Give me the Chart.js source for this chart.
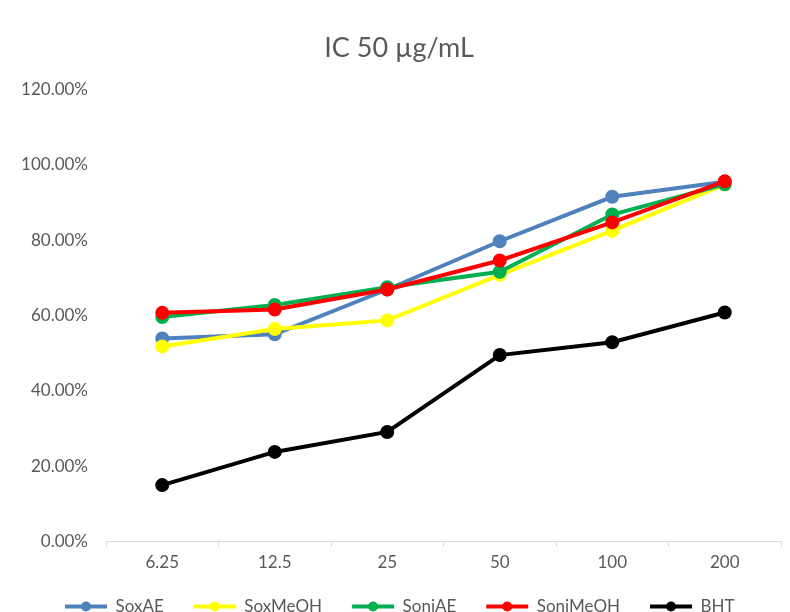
<!DOCTYPE html>
<html>
<head>
<meta charset="utf-8">
<script src="https://cdn.jsdelivr.net/npm/chart.js@4"></script>
<style>
  html, body { margin: 0; padding: 0; background: #fff; }
  #wrap { width: 790px; height: 612px; }
</style>
</head>
<body>
<div id="wrap"><canvas id="ic50Chart"></canvas></div>
<script>
// concentrations (µg/mL)
var labels = ['6.25', '12.5', '25', '50', '100', '200'];

// % inhibition
var soxAE    = [53.9, 55.0, 66.9, 79.7, 91.5, 95.5];
var soxMeOH  = [51.8, 56.4, 58.7, 70.8, 82.5, 94.8];
var soniAE   = [59.6, 62.8, 67.5, 71.6, 86.8, 94.8];
var soniMeOH = [60.7, 61.6, 66.9, 74.6, 84.7, 95.6];
var bht      = [15.0, 23.8, 29.1, 49.5, 52.9, 60.8];

var names  = ['SoxAE', 'SoxMeOH', 'SoniAE', 'SoniMeOH', 'BHT'];
var colors = ['#4f81bd', '#ffff00', '#00b050', '#ff0000', '#000000'];
var series = [soxAE, soxMeOH, soniAE, soniMeOH, bht];

var FONT = "Lato, 'Liberation Sans', sans-serif";
var LEGEND_LINE = 42;

// nudge the legend box (it sits a bit higher and further right than chart.js puts it)
var legendNudge = {
    id: 'legendNudge',
    afterLayout: function(chart) {
        var lg = chart.legend;
        if (!lg) return;
        lg.top -= 11; lg.bottom -= 11;
        lg.left += 23; lg.right += 23;
    }
};

// dot in the middle of each legend line, like the spreadsheet legend
var legendDots = {
    id: 'legendDots',
    afterDraw: function(chart) {
        var lg = chart.legend;
        if (!lg || !lg.legendHitBoxes) return;
        var ctx = chart.ctx;
        lg.legendHitBoxes.forEach(function(b, i) {
            ctx.save();
            ctx.fillStyle = lg.legendItems[i].strokeStyle;
            ctx.beginPath();
            ctx.arc(b.left + LEGEND_LINE / 2, b.top + b.height / 2, 5, 0, Math.PI * 2);
            ctx.fill();
            ctx.restore();
        });
    }
};

var ctx = document.getElementById('ic50Chart').getContext('2d');
var ic50Chart = new Chart(ctx, {
    type: 'line',
    data: {
        labels: labels,
        datasets: series.map(function(d, i) {
            return {
                label: names[i],
                data: d,
                borderColor: colors[i],
                backgroundColor: colors[i],
                borderWidth: 4,
                pointRadius: 5,
                pointHoverRadius: 5,
                tension: 0,
                order: i === 4 ? 0 : 5 - i
            };
        })
    },
    options: {
        responsive: true,
        maintainAspectRatio: false,
        animation: false,
        layout: { padding: { left: 12, right: 4, top: 32, bottom: -24 } },
        plugins: {
            title: {
                display: true,
                text: 'IC 50 µg/mL',
                color: '#595959',
                font: { family: FONT, size: 27, weight: 'normal' },
                padding: { top: 0, bottom: 25 }
            },
            legend: {
                position: 'bottom',
                align: 'start',
                labels: {
                    color: '#595959',
                    font: { family: FONT, size: 17 },
                    usePointStyle: true,
                    pointStyle: 'line',
                    pointStyleWidth: LEGEND_LINE,
                    padding: 30,
                    sort: function(a, b) { return a.datasetIndex - b.datasetIndex; }
                }
            },
            tooltip: { enabled: false }
        },
        scales: {
            x: {
                offset: true,
                grid: {
                    offset: true,
                    drawOnChartArea: false,
                    color: '#d9d9d9',
                    tickLength: 5
                },
                border: { color: '#d9d9d9' },
                ticks: {
                    color: '#595959',
                    font: { family: FONT, size: 17 },
                    padding: 6
                }
            },
            y: {
                min: 0,
                max: 120,
                afterFit: function(scale) { scale.width = 94; },
                grid: { display: false, drawTicks: false },
                border: { display: false },
                ticks: {
                    stepSize: 20,
                    color: '#595959',
                    font: { family: FONT, size: 17 },
                    padding: 18,
                    callback: function(v) { return v.toFixed(2) + '%'; }
                }
            }
        }
    },
    plugins: [legendNudge, legendDots]
});
</script>
</body>
</html>
